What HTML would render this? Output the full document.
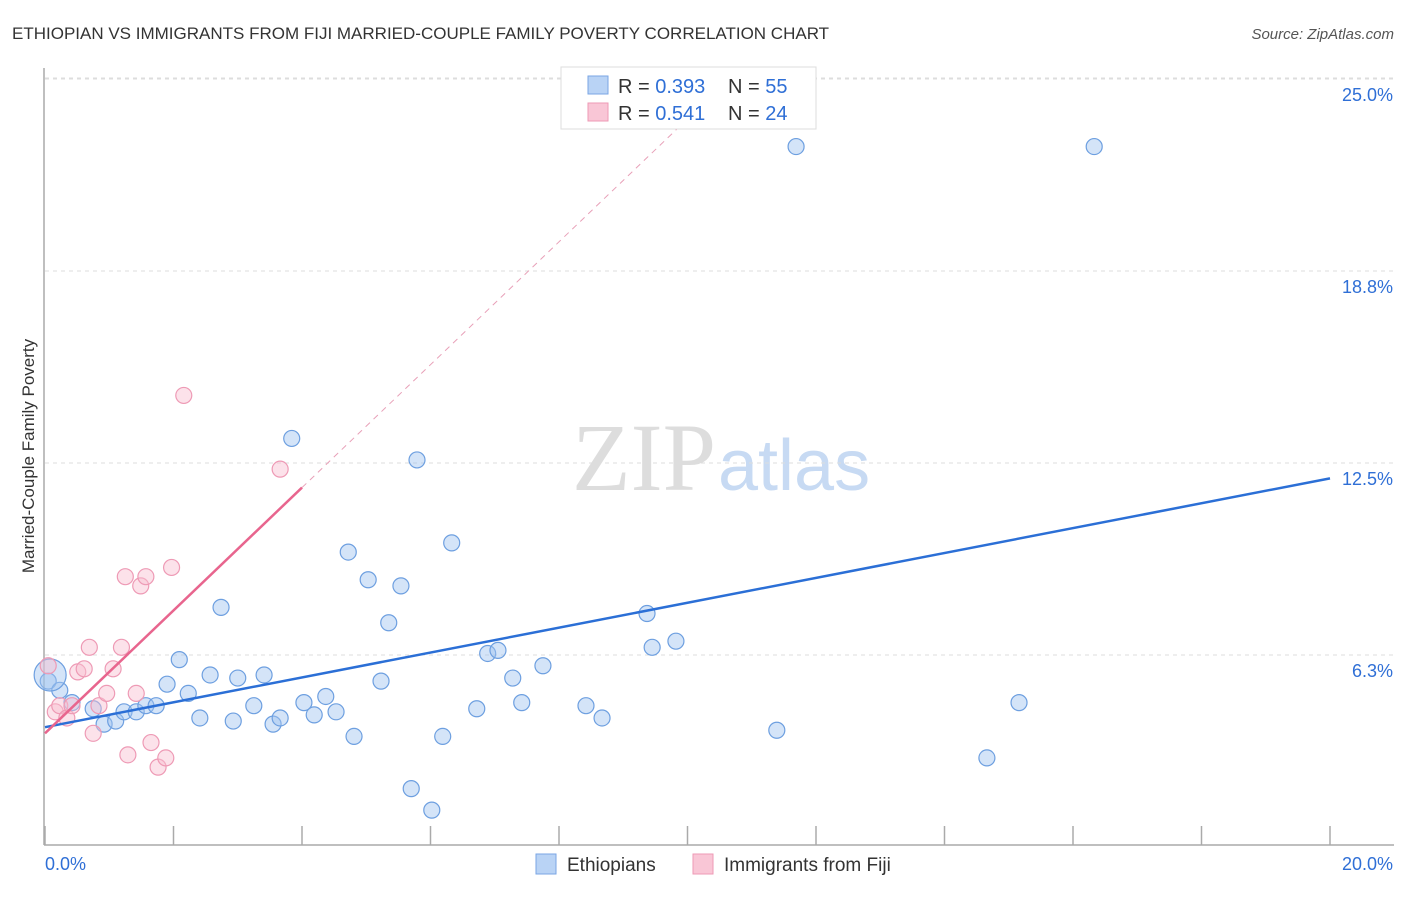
<!DOCTYPE html>
<html><head><meta charset="utf-8"><style>
body{margin:0;background:#fff;font-family:"Liberation Sans",sans-serif;}
</style></head><body>
<svg id="chart" width="1406" height="892" xmlns="http://www.w3.org/2000/svg" font-family="Liberation Sans, sans-serif">
<text x="12" y="39" font-size="17" fill="#333">ETHIOPIAN VS IMMIGRANTS FROM FIJI MARRIED-COUPLE FAMILY POVERTY CORRELATION CHART</text>
<text x="1394" y="39" font-size="15" fill="#555" text-anchor="end" font-style="italic">Source: ZipAtlas.com</text>
<text transform="translate(34,456) rotate(-90)" font-size="17" fill="#333" text-anchor="middle">Married-Couple Family Poverty</text>
<text x="716" y="490" font-size="96" text-anchor="end" fill="#ddd" font-family="Liberation Serif, serif">ZIP</text>
<text x="718" y="490" font-size="72" fill="#c7daf3">atlas</text>
<g id="grid"></g><g id="marks"></g>
<g>
<rect x="561" y="67" width="255" height="62" fill="#fff" stroke="#ddd"/>
<rect x="588" y="76" width="20" height="18" fill="#b9d3f5" stroke="#7aa6e4"/>
<rect x="588" y="103" width="20" height="18" fill="#f9c6d6" stroke="#ee9ab5"/>
<text x="618" y="93" font-size="20" fill="#333">R = <tspan fill="#2f6fd6">0.393</tspan></text>
<text x="728" y="93" font-size="20" fill="#333">N = <tspan fill="#2f6fd6">55</tspan></text>
<text x="618" y="120" font-size="20" fill="#333">R = <tspan fill="#2f6fd6">0.541</tspan></text>
<text x="728" y="120" font-size="20" fill="#333">N = <tspan fill="#2f6fd6">24</tspan></text>
</g>
<g>
<rect x="536" y="854" width="20" height="20" fill="#b9d3f5" stroke="#7aa6e4"/>
<text x="567" y="871" font-size="19" fill="#333">Ethiopians</text>
<rect x="693" y="854" width="20" height="20" fill="#f9c6d6" stroke="#ee9ab5"/>
<text x="724" y="871" font-size="19" fill="#333">Immigrants from Fiji</text>
</g>
</svg>
<script>
const blueX=[0.05,0.23,0.42,0.75,0.92,1.1,1.23,1.42,1.57,1.73,1.9,2.09,2.23,2.41,2.57,2.74,2.93,3.0,3.25,3.41,3.55,3.66,3.84,4.03,4.19,4.37,4.53,4.72,4.81,5.03,5.23,5.35,5.54,5.7,5.79,6.02,6.19,6.33,6.72,6.89,7.05,7.28,7.42,7.75,8.42,8.67,9.37,9.45,9.82,11.39,11.69,14.66,15.16,16.33,0.08];
const blueY=[5.4,5.1,4.7,4.5,4.0,4.1,4.4,4.4,4.6,4.6,5.3,6.1,5.0,4.2,5.6,7.8,4.1,5.5,4.6,5.6,4.0,4.2,13.3,4.7,4.3,4.9,4.4,9.6,3.6,8.7,5.4,7.3,8.5,1.9,12.6,1.2,3.6,9.9,4.5,6.3,6.4,5.5,4.7,5.9,4.6,4.2,7.6,6.5,6.7,3.8,22.8,2.9,4.7,22.8,5.6];
const blueR=[8,8,8,8,8,8,8,8,8,8,8,8,8,8,8,8,8,8,8,8,8,8,8,8,8,8,8,8,8,8,8,8,8,8,8,8,8,8,8,8,8,8,8,8,8,8,8,8,8,8,8,8,8,8,16];
const pinkX=[0.05,0.16,0.23,0.34,0.42,0.51,0.61,0.69,0.75,0.84,0.96,1.06,1.19,1.25,1.29,1.42,1.49,1.57,1.65,1.76,1.88,1.97,2.16,3.66];
const pinkY=[5.9,4.4,4.6,4.2,4.6,5.7,5.8,6.5,3.7,4.6,5.0,5.8,6.5,8.8,3.0,5.0,8.5,8.8,3.4,2.6,2.9,9.1,14.7,12.3];
const blueLine=[0,3.9,20,12.0];
const pinkLine=[0,3.7,4,11.7];
const yTicks=[6.3,12.5,18.8,25.0];
const yTickPos=[6.25,12.5,18.75,25.0];
const xTicks=[0,2,4,6,8,10,12,14,16,18,20];
const X=v=>45+v*64.25, Y=v=>847-v*30.72;
const NS="http://www.w3.org/2000/svg";
function mk(t,a,p){const e=document.createElementNS(NS,t);for(const k in a)e.setAttribute(k,a[k]);p.appendChild(e);return e;}
const grid=document.getElementById('grid'), marks=document.getElementById('marks');
yTickPos.forEach((v,i)=>{
 const l=mk('line',{x1:45,x2:1394,y1:Y(v),y2:Y(v),stroke:'#ddd','stroke-dasharray':'4,4'},grid);
 
 
 const t=mk('text',{x:1393,y:Y(v)+22,'font-size':18,fill:'#2f6fd6','text-anchor':'end'},grid);
 t.textContent=yTicks[i].toFixed(1)+'%';
 
 
});
const topLine=mk('line',{x1:45,x2:1394,y1:78,y2:78,stroke:'#ddd','stroke-dasharray':'4,4'},grid);


const ya=mk('line',{x1:44,x2:44,y1:68,y2:845,stroke:'#aaa','stroke-width':1.5},grid);


const xa=mk('line',{x1:44,x2:1394,y1:845,y2:845,stroke:'#aaa','stroke-width':1.5},grid);


xTicks.forEach(v=>{const l=mk('line',{x1:X(v),x2:X(v),y1:826,y2:845,stroke:'#aaa','stroke-width':1.5},grid);
 
 });
[[0,'start',45],[20,'end',1393]].forEach(([v,a,x])=>{const t=mk('text',{x:x,y:870,'font-size':18,fill:'#2f6fd6','text-anchor':a},grid);t.textContent=v.toFixed(1)+'%';
 
 });
blueX.forEach((v,i)=>{const c=mk('circle',{cx:X(v),cy:Y(blueY[i]),r:blueR[i],fill:'rgba(160,196,240,0.45)',stroke:'#6d9fe0','stroke-width':1.2},marks);
 
 });
pinkX.forEach((v,i)=>{const c=mk('circle',{cx:X(v),cy:Y(pinkY[i]),r:8,fill:'rgba(248,190,208,0.45)',stroke:'#ee9ab5','stroke-width':1.2},marks);
 
 });
const bl=mk('line',{x1:X(blueLine[0]),y1:Y(blueLine[1]),x2:X(blueLine[2]),y2:Y(blueLine[3]),stroke:'#2b6fd6','stroke-width':2.5},marks);


const slope=(pinkLine[3]-pinkLine[1])/(pinkLine[2]-pinkLine[0]);
const xe=(23.5-pinkLine[1])/slope;
const pd=mk('line',{x1:X(pinkLine[2]),y1:Y(pinkLine[3]),x2:X(xe),y2:Y(23.5),stroke:'#e8a0b8','stroke-width':1,'stroke-dasharray':'6,5'},marks);


const pl=mk('line',{x1:X(pinkLine[0]),y1:Y(pinkLine[1]),x2:X(pinkLine[2]),y2:Y(pinkLine[3]),stroke:'#e8658e','stroke-width':2.5},marks);


</script>
</body></html>
